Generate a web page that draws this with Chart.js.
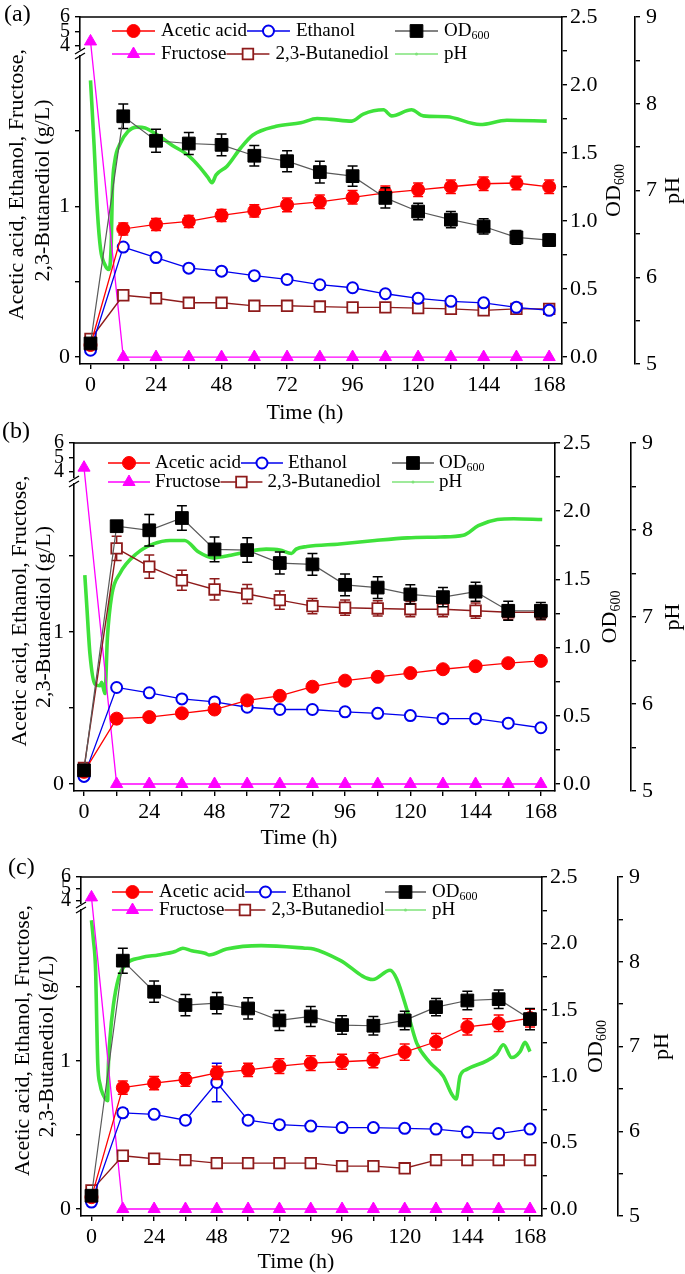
<!DOCTYPE html>
<html>
<head>
<meta charset="utf-8">
<title>Fermentation profiles</title>
<script src="https://cdn.jsdelivr.net/npm/chart.js@4.4.0/dist/chart.umd.min.js"></script>
<style>
  html, body { margin: 0; padding: 0; background: #fff; }
  #wrap { position: relative; width: 685px; height: 1274px; overflow: hidden; background: #fff; }
  #wrap canvas { position: absolute; left: 0; }
</style>
</head>
<body>
<div id="wrap">
  <canvas id="chartA" width="685" height="428" style="top:0px"></canvas>
  <canvas id="chartB" width="685" height="430" style="top:418px"></canvas>
  <canvas id="chartC" width="685" height="426" style="top:848px"></canvas>
</div>
<script>
const FONT = '"Liberation Serif", "Times New Roman", serif';
Chart.defaults.font.family = FONT;
Chart.defaults.color = '#000';

// ---- data ----
const hours = [0, 12, 24, 36, 48, 60, 72, 84, 96, 108, 120, 132, 144, 156, 168];
const xTickHours = [0, 12, 24, 36, 48, 60, 72, 84, 96, 108, 120, 132, 144, 156, 168];
const xTickLabels = ['0', '24', '48', '72', '96', '120', '144', '168'];
const leftTickValues = [0, 0.5, 1, 1.5, 4, 5, 6];
const leftTickLabels = ['0', '1', '4', '5', '6'];
const odTickValues = [0, 0.25, 0.5, 0.75, 1, 1.25, 1.5, 1.75, 2, 2.25, 2.5];
const odTickLabels = ['0.0', '0.5', '1.0', '1.5', '2.0', '2.5'];
const phTickValues = [5, 5.5, 6, 6.5, 7, 7.5, 8, 8.5, 9];
const phTickLabels = ['5', '6', '7', '8', '9'];

// panel (a)
const aceticA = [0.08, 0.85, 0.88, 0.90, 0.94, 0.97, 1.01, 1.03, 1.06, 1.09, 1.11, 1.13, 1.15, 1.155, 1.13];
const aceticErrA = [0.01, 0.04, 0.04, 0.04, 0.04, 0.04, 0.045, 0.045, 0.045, 0.045, 0.045, 0.045, 0.045, 0.045, 0.045];
const ethanolA = [0.045, 0.73, 0.66, 0.59, 0.57, 0.54, 0.515, 0.48, 0.46, 0.42, 0.39, 0.37, 0.36, 0.33, 0.31];
const ethanolErrA = [0.01, 0.015, 0.015, 0.01, 0.01, 0.01, 0.01, 0.01, 0.01, 0.01, 0.01, 0.01, 0.01, 0.01, 0.01];
const fructoseA = [4.3, 0, 0, 0, 0, 0, 0, 0, 0, 0, 0, 0, 0, 0, 0];
const butanediolA = [0.12, 0.41, 0.39, 0.36, 0.36, 0.34, 0.34, 0.335, 0.33, 0.33, 0.325, 0.32, 0.31, 0.32, 0.32];
const butanediolErrA = [0.01, 0.015, 0.01, 0.01, 0.01, 0.01, 0.01, 0.01, 0.01, 0.01, 0.01, 0.01, 0.015, 0.01, 0.01];
const odA = [0.10, 1.77, 1.59, 1.57, 1.56, 1.48, 1.44, 1.36, 1.33, 1.17, 1.07, 1.01, 0.96, 0.88, 0.86];
const odErrA = [0.01, 0.09, 0.085, 0.08, 0.08, 0.075, 0.077, 0.08, 0.075, 0.075, 0.06, 0.06, 0.056, 0.05, 0.045];
const phTimeA = [0, 1.3, 2.5, 3.7, 5.2, 6.7, 7.6, 8.0, 8.9, 10.7, 13.7, 17, 20, 24, 30, 36, 40, 43, 44.5, 46, 50, 55, 59.5, 68, 77, 83, 88, 95.7, 99.9, 107.3, 110.3, 117.6, 121.9, 130.5, 142.7, 152.5, 167.1];
const phA = [8.27, 7.53, 6.77, 6.32, 6.15, 6.09, 6.39, 7.0, 7.34, 7.53, 7.68, 7.73, 7.72, 7.65, 7.52, 7.40, 7.27, 7.15, 7.09, 7.18, 7.28, 7.49, 7.64, 7.74, 7.78, 7.83, 7.82, 7.80, 7.88, 7.93, 7.86, 7.93, 7.86, 7.85, 7.76, 7.81, 7.80];

// panel (b)
const aceticB = [0.08, 0.43, 0.44, 0.465, 0.49, 0.55, 0.58, 0.64, 0.68, 0.705, 0.73, 0.755, 0.775, 0.795, 0.81];
const aceticErrB = [0.01, 0.015, 0.015, 0.015, 0.015, 0.015, 0.015, 0.015, 0.015, 0.015, 0.015, 0.015, 0.015, 0.015, 0.02];
const ethanolB = [0.05, 0.635, 0.60, 0.56, 0.54, 0.505, 0.49, 0.49, 0.475, 0.465, 0.45, 0.43, 0.43, 0.40, 0.37];
const ethanolErrB = [0.01, 0.01, 0.01, 0.01, 0.01, 0.01, 0.01, 0.01, 0.01, 0.01, 0.01, 0.01, 0.01, 0.01, 0.01];
const fructoseB = [4.3, 0, 0, 0, 0, 0, 0, 0, 0, 0, 0, 0, 0, 0, 0];
const butanediolB = [0.105, 1.55, 1.43, 1.34, 1.28, 1.25, 1.21, 1.17, 1.16, 1.155, 1.15, 1.15, 1.14, 1.13, 1.13];
const butanediolErrB = [0.01, 0.08, 0.077, 0.066, 0.07, 0.063, 0.06, 0.05, 0.05, 0.05, 0.05, 0.05, 0.05, 0.05, 0.05];
const odB = [0.10, 1.89, 1.86, 1.95, 1.72, 1.715, 1.62, 1.61, 1.46, 1.44, 1.39, 1.37, 1.41, 1.27, 1.27];
const odErrB = [0.01, 0.03, 0.115, 0.09, 0.09, 0.09, 0.08, 0.08, 0.08, 0.08, 0.07, 0.07, 0.07, 0.07, 0.06];
const phTimeB = [0.3, 1, 2.2, 4, 5.9, 6.5, 7.7, 8.6, 10.2, 13.2, 19.4, 25.5, 31.6, 37, 42, 47.5, 54, 60, 67, 72, 76.3, 78, 82, 94, 107, 119, 131, 139.5, 145, 152, 158, 168.5];
const phB = [7.48, 7.14, 6.57, 6.23, 6.21, 6.25, 6.12, 6.76, 7.25, 7.5, 7.73, 7.84, 7.88, 7.88, 7.75, 7.68, 7.71, 7.75, 7.78, 7.77, 7.73, 7.78, 7.81, 7.84, 7.88, 7.91, 7.92, 7.94, 8.05, 8.12, 8.13, 8.12];

// panel (c)
const aceticC = [0.08, 0.82, 0.85, 0.875, 0.92, 0.94, 0.965, 0.985, 0.995, 1.005, 1.06, 1.13, 1.23, 1.255, 1.29];
const aceticErrC = [0.01, 0.045, 0.045, 0.045, 0.045, 0.045, 0.05, 0.05, 0.05, 0.05, 0.055, 0.055, 0.055, 0.055, 0.06];
const ethanolC = [0.047, 0.65, 0.64, 0.60, 0.855, 0.60, 0.57, 0.56, 0.55, 0.55, 0.545, 0.54, 0.52, 0.51, 0.54];
const ethanolErrC = [0.01, 0.025, 0.02, 0.02, 0.13, 0.02, 0.015, 0.015, 0.015, 0.015, 0.015, 0.015, 0.015, 0.015, 0.015];
const fructoseC = [4.3, 0, 0, 0, 0, 0, 0, 0, 0, 0, 0, 0, 0, 0, 0];
const butanediolC = [0.126, 0.36, 0.34, 0.33, 0.31, 0.31, 0.31, 0.31, 0.29, 0.29, 0.275, 0.33, 0.33, 0.33, 0.33];
const butanediolErrC = [0.01, 0.01, 0.01, 0.01, 0.01, 0.01, 0.01, 0.01, 0.01, 0.01, 0.01, 0.01, 0.01, 0.01, 0.01];
const odC = [0.10, 1.87, 1.636, 1.536, 1.55, 1.51, 1.42, 1.45, 1.385, 1.38, 1.42, 1.52, 1.57, 1.58, 1.43];
const odErrC = [0.01, 0.094, 0.08, 0.08, 0.08, 0.08, 0.075, 0.075, 0.07, 0.07, 0.07, 0.065, 0.07, 0.07, 0.08];
const phTimeC = [0, 0.7, 1.6, 2.0, 2.4, 3.3, 4.5, 6.2, 6.4, 7.1, 8.4, 10.3, 12.8, 19.2, 25.6, 32, 35, 38.4, 43.5, 45, 51.7, 65, 81.8, 85.1, 95.1, 107.8, 114.4, 116.9, 120.8, 124.6, 129.7, 134.8, 138, 139.7, 141.2, 143.8, 151.4, 155.2, 157.8, 161, 164.2, 166.1, 168];
const phC = [8.49, 8.27, 7.88, 7.3, 6.8, 6.55, 6.43, 6.36, 6.7, 7.1, 7.49, 7.8, 7.96, 8.05, 8.08, 8.12, 8.16, 8.13, 8.10, 8.08, 8.15, 8.19, 8.16, 8.15, 8.02, 7.79, 7.90, 7.80, 7.44, 7.04, 6.81, 6.65, 6.44, 6.38, 6.65, 6.73, 6.83, 6.91, 7.02, 6.87, 6.94, 7.05, 6.94];

// ---- colours ----
const RED = '#ff0000', BLUE = '#0000ee', MAGENTA = '#ff00ff', MAROON = '#8e1b1b', GREEN = '#3fe23b';

// ---- panel geometry (canvas-local pixels) ----
const panels = [
  { id: 'chartA', tag: '(a)', top: 14, zero: 357, bottom: 364, height: 428, left: 80, right: 562, phX: 635,
    unit: 152, up4: 29, brk: 36, xMin: -3.85, xMax: 172.7,
    leg: { x: 112, len: 43, gap: 6, col3: 395, y1: 31, y2: 54 },
    tl: { l1: 17, l2: 43, od: 614, ph: 673, timeX: 305, timeY: 413, tagX: 4, tagY: 15 },
    d: { acetic: aceticA, aceticErr: aceticErrA, ethanol: ethanolA, ethanolErr: ethanolErrA, fructose: fructoseA,
         bd: butanediolA, bdErr: butanediolErrA, od: odA, odErr: odErrA, phTime: phTimeA, ph: phA } },
  { id: 'chartB', tag: '(b)', top: 25, zero: 366, bottom: 373, height: 430, left: 74, right: 555, phX: 631,
    unit: 152, up4: 29, brk: 38, xMin: -3.68, xMax: 173.2,
    leg: { x: 108, len: 42, gap: 5, col3: 392, y1: 45, y2: 64 },
    tl: { l1: 20, l2: 44, od: 610, ph: 673, timeX: 299, timeY: 420, tagX: 2, tagY: 14 },
    d: { acetic: aceticB, aceticErr: aceticErrB, ethanol: ethanolB, ethanolErr: ethanolErrB, fructose: fructoseB,
         bd: butanediolB, bdErr: butanediolErrB, od: odB, odErr: odErrB, phTime: phTimeB, ph: phB } },
  { id: 'chartC', tag: '(c)', top: 29, zero: 361, bottom: 368, height: 426, left: 81, right: 542, phX: 618,
    unit: 148, up4: 24, brk: 30, xMin: -4.02, xMax: 172.6,
    leg: { x: 112, len: 41, gap: 6, col3: 385, y1: 44, y2: 62 },
    tl: { l1: 23, l2: 47, od: 596, ph: 662, timeX: 296, timeY: 414, tagX: 8, tagY: 20 },
    d: { acetic: aceticC, aceticErr: aceticErrC, ethanol: ethanolC, ethanolErr: ethanolErrC, fructose: fructoseC,
         bd: butanediolC, bdErr: butanediolErrC, od: odC, odErr: odErrC, phTime: phTimeC, ph: phC } }
];

function marker(ctx, style, x, y, r, fill, stroke, lw) {
  ctx.save();
  ctx.fillStyle = fill; ctx.strokeStyle = stroke; ctx.lineWidth = lw;
  ctx.beginPath();
  if (style === 'rect') {
    const s = r * Math.SQRT1_2;
    ctx.rect(x - s, y - s, 2 * s, 2 * s);
  } else if (style === 'triangle') {
    const a = 2 * Math.PI / 3;
    ctx.moveTo(x, y - r);
    ctx.lineTo(x + r * Math.sin(a), y - r * Math.cos(a));
    ctx.lineTo(x - r * Math.sin(a), y - r * Math.cos(a));
    ctx.closePath();
  } else {
    ctx.arc(x, y, r, 0, Math.PI * 2);
  }
  ctx.fill();
  if (lw) ctx.stroke();
  ctx.restore();
}

// error bars drawn just before their own dataset so the markers sit on top
const errorBars = {
  id: 'errorBars',
  beforeDatasetDraw(chart, args) {
    const ds = chart.data.datasets[args.index];
    if (!ds.errors) return;
    const ys = chart.scales[ds.yAxisID];
    const ctx = chart.ctx;
    ctx.save();
    ctx.strokeStyle = ds.errColor;
    ctx.lineWidth = 1.5;
    args.meta.data.forEach((pt, i) => {
      const e = ds.errors[i];
      if (!e) return;
      const v = ds.data[i].y;
      const y1 = ys.getPixelForValue(v + e), y2 = ys.getPixelForValue(v - e);
      ctx.beginPath();
      ctx.moveTo(pt.x, y1); ctx.lineTo(pt.x, y2);
      ctx.moveTo(pt.x - 5, y1); ctx.lineTo(pt.x + 5, y1);
      ctx.moveTo(pt.x - 5, y2); ctx.lineTo(pt.x + 5, y2);
      ctx.stroke();
    });
    ctx.restore();
  }
};

function textSub(ctx, main, sub, x, y, size) {
  ctx.font = size + 'px ' + FONT;
  ctx.fillText(main, x, y);
  const w = ctx.measureText(main).width;
  ctx.font = Math.round(size * 0.65) + 'px ' + FONT;
  ctx.fillText(sub, x + w, y + size * 0.28);
  return w + ctx.measureText(sub).width;
}

function makeDecor(p) {
  return {
    id: 'decor',
    afterDraw(chart) {
      const ctx = chart.ctx;
      const a = chart.chartArea;
      ctx.save();
      // top frame line
      ctx.strokeStyle = '#000'; ctx.lineWidth = 1.6;
      ctx.beginPath(); ctx.moveTo(a.left - 0.8, a.top); ctx.lineTo(a.right + 0.8, a.top); ctx.stroke();
      // axis break marks on the left axis
      const by = a.top + p.brk;
      ctx.fillStyle = '#fff';
      ctx.fillRect(a.left - 3, by - 3, 6, 5);
      ctx.lineWidth = 1.4;
      ctx.beginPath();
      ctx.moveTo(a.left - 5, by + 1); ctx.lineTo(a.left + 5, by - 5);
      ctx.moveTo(a.left - 5, by + 6); ctx.lineTo(a.left + 5, by);
      ctx.stroke();

      ctx.fillStyle = '#000';
      ctx.textBaseline = 'middle';
      // panel tag
      ctx.font = '24px ' + FONT; ctx.textAlign = 'left';
      ctx.fillText(p.tag, p.tl.tagX, p.tl.tagY);
      // x title
      ctx.font = '22px ' + FONT; ctx.textAlign = 'center';
      ctx.fillText('Time (h)', p.tl.timeX, p.tl.timeY);
      // vertical titles
      const cy = (a.top + a.bottom) / 2;
      const vtitle = (x, y, fn) => { ctx.save(); ctx.translate(x, y); ctx.rotate(-Math.PI / 2); fn(); ctx.restore(); };
      vtitle(p.tl.l1, cy - 6, () => { ctx.font = '22px ' + FONT; ctx.textAlign = 'center'; ctx.fillText('Acetic acid, Ethanol, Fructose,', 0, 0); });
      vtitle(p.tl.l2, cy, () => { ctx.font = '22px ' + FONT; ctx.textAlign = 'center'; ctx.fillText('2,3-Butanediol (g/L)', 0, 0); });
      vtitle(p.tl.od, cy, () => {
        ctx.font = '22px ' + FONT;
        const w = ctx.measureText('OD').width;
        ctx.font = '14px ' + FONT;
        const w2 = ctx.measureText('600').width;
        ctx.textAlign = 'left';
        textSub(ctx, 'OD', '600', -(w + w2) / 2, 0, 22);
      });
      vtitle(p.tl.ph, cy, () => { ctx.font = '22px ' + FONT; ctx.textAlign = 'center'; ctx.fillText('pH', 0, 0); });

      // legend
      const L = p.leg;
      const byLabel = {};
      chart.data.datasets.forEach(ds => { byLabel[ds.label] = ds; });
      ctx.textAlign = 'left';
      const item = (ds, x, y, name, opts = {}) => {
        ctx.strokeStyle = opts.lineColor || ds.borderColor;
        ctx.lineWidth = 1.3;
        ctx.beginPath(); ctx.moveTo(x, y); ctx.lineTo(x + L.len, y); ctx.stroke();
        if (opts.dot) marker(ctx, 'circle', x + L.len / 2, y, 1.5, opts.lineColor, opts.lineColor, 0);
        else marker(ctx, ds.pointStyle, x + L.len / 2, y, ds.pointRadius, ds.pointBackgroundColor, ds.pointBorderColor, ds.pointBorderWidth || 0);
        ctx.fillStyle = '#000';
        let w;
        if (opts.sub) w = textSub(ctx, name, opts.sub, x + L.len + L.gap, y, 19);
        else { ctx.font = '19px ' + FONT; ctx.fillText(name, x + L.len + L.gap, y); w = ctx.measureText(name).width; }
        return x + L.len + L.gap + w;
      };
      let x = item(byLabel['Acetic acid'], L.x, L.y1, 'Acetic acid');
      item(byLabel['Ethanol'], x, L.y1, 'Ethanol');
      item(byLabel['OD600'], L.col3, L.y1, 'OD', { sub: '600' });
      x = item(byLabel['Fructose'], L.x, L.y2, 'Fructose');
      item(byLabel['2,3-Butanediol'], x, L.y2, '2,3-Butanediol');
      item(byLabel['pH'], L.col3, L.y2, 'pH', { dot: true, lineColor: '#7fe37a' });
      ctx.restore();
    }
  };
}

function buildPanel(p) {
  const d = p.d;
  const vMax = (p.zero - p.top) / p.unit;
  const vMin = -(p.bottom - p.zero) / p.unit;
  const v4 = (p.zero - p.top - p.up4) / p.unit;
  const k = (vMax - v4) / 2;
  const vis = v => (v >= 3 ? v4 + (v - 4) * k : v);   // broken left axis
  const odUnit = (p.zero - p.top) / 2.5;
  const odMin = -(p.bottom - p.zero) / odUnit;
  const pts = (arr, f = v => v) => hours.map((h, i) => ({ x: h, y: f(arr[i]) }));

  const grid = { display: true, drawOnChartArea: false, drawTicks: true, tickLength: 5, color: '#000', lineWidth: 1.4 };
  const border = { display: true, color: '#000', width: 1.6 };
  const tickFont = { size: 22, lineHeight: 1 };

  new Chart(document.getElementById(p.id), {
    type: 'line',
    data: {
      datasets: [
        { label: 'OD600', yAxisID: 'od', data: pts(d.od), borderColor: '#5a5a5a', borderWidth: 1.2,
          pointStyle: 'rect', pointRadius: 9, pointBackgroundColor: '#000', pointBorderColor: '#000', pointBorderWidth: 1,
          errors: d.odErr, errColor: '#000' },
        { label: 'Acetic acid', yAxisID: 'y', data: pts(d.acetic), borderColor: RED, borderWidth: 1.3,
          pointStyle: 'circle', pointRadius: 6.5, pointBackgroundColor: RED, pointBorderColor: RED, pointBorderWidth: 1,
          errors: d.aceticErr, errColor: RED },
        { label: 'Ethanol', yAxisID: 'y', data: pts(d.ethanol), borderColor: BLUE, borderWidth: 1.3,
          pointStyle: 'circle', pointRadius: 5.5, pointBackgroundColor: '#fff', pointBorderColor: BLUE, pointBorderWidth: 2,
          errors: d.ethanolErr, errColor: BLUE },
        { label: '2,3-Butanediol', yAxisID: 'y', data: pts(d.bd), borderColor: MAROON, borderWidth: 1.4,
          pointStyle: 'rect', pointRadius: 7.5, pointBackgroundColor: '#fff', pointBorderColor: MAROON, pointBorderWidth: 1.8,
          errors: d.bdErr, errColor: MAROON },
        { label: 'Fructose', yAxisID: 'y', data: pts(d.fructose, vis), borderColor: MAGENTA, borderWidth: 1.3,
          pointStyle: 'triangle', pointRadius: 7, pointBackgroundColor: MAGENTA, pointBorderColor: MAGENTA, pointBorderWidth: 1 },
        { label: 'pH', yAxisID: 'ph', data: d.phTime.map((t, i) => ({ x: t, y: d.ph[i] })), borderColor: GREEN,
          borderWidth: 3.6, pointRadius: 0, cubicInterpolationMode: 'monotone' }
      ]
    },
    options: {
      responsive: false,
      animation: false,
      events: [],
      layout: { padding: { top: p.top, left: 0, right: 0, bottom: 0 } },
      plugins: { legend: { display: false }, tooltip: { enabled: false } },
      scales: {
        x: {
          type: 'linear', position: 'bottom', min: p.xMin, max: p.xMax,
          afterBuildTicks: s => { s.ticks = xTickHours.map(v => ({ value: v })); },
          afterFit: s => { s.height = p.height - p.bottom; },
          ticks: { autoSkip: false, maxRotation: 0, padding: 5, font: tickFont,
                   callback: v => (xTickLabels.includes(String(v)) ? String(v) : '') },
          grid, border
        },
        y: {
          type: 'linear', position: 'left', min: vMin, max: vMax,
          afterBuildTicks: s => { s.ticks = leftTickValues.map(v => ({ value: vis(v), real: v })); },
          afterFit: s => { s.width = p.left; },
          ticks: { autoSkip: false, padding: 5,
                   font: c => ({ size: c.tick && c.tick.value > 2.05 ? 20 : 22, lineHeight: 1 }),
                   callback: (v, i, t) => (leftTickLabels.includes(String(t[i].real)) ? String(t[i].real) : '') },
          grid, border
        },
        od: {
          type: 'linear', position: 'right', weight: 0, min: odMin, max: 2.5,
          afterBuildTicks: s => { s.ticks = odTickValues.map(v => ({ value: v })); },
          afterFit: s => { s.width = p.phX - p.right; },
          ticks: { autoSkip: false, padding: 3, font: tickFont,
                   callback: v => (odTickLabels.includes(v.toFixed(1)) && Math.abs(v * 2 - Math.round(v * 2)) < 1e-6 ? v.toFixed(1) : '') },
          grid, border
        },
        ph: {
          type: 'linear', position: 'right', weight: 1, min: 5, max: 9,
          afterBuildTicks: s => { s.ticks = phTickValues.map(v => ({ value: v })); },
          afterFit: s => { s.width = 685 - p.phX; },
          ticks: { autoSkip: false, padding: 6, font: tickFont,
                   callback: v => (phTickLabels.includes(String(v)) ? String(v) : '') },
          grid, border
        }
      }
    },
    plugins: [errorBars, makeDecor(p)]
  });
}

panels.forEach(buildPanel);
</script>
</body>
</html>
